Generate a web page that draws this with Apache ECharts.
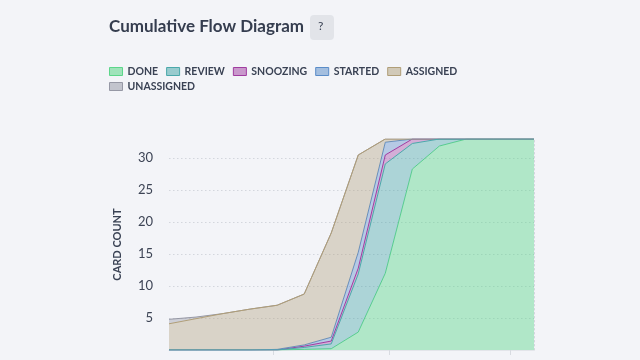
<!DOCTYPE html>
<html>
<head>
<meta charset="utf-8">
<script src="https://cdn.jsdelivr.net/npm/echarts@6/dist/echarts.min.js"></script>
<style>
  html, body { margin: 0; padding: 0; background: #f3f4f8; }
  #chart { width: 640px; height: 360px; }
</style>
</head>
<body>
<div id="chart"></div>
<script>
// x positions (days since start)
var days = [0, 1, 2, 3, 4, 5, 6, 7, 8, 9, 10, 11, 12, 13, 13.5];
var xTickDays = [3.84, 8.16, 12.62];
var yTickLabels = [5, 10, 15, 20, 25, 30];

// stacked per-state card counts
var done       = [0, 0, 0, 0, 0, 0.1, 0.2, 2.8, 12.0, 28.3, 31.9, 33, 33, 33, 33];
var review     = [0, 0, 0, 0, 0, 0.3, 0.75, 9.1, 17.1, 4.0, 1.1, 0, 0, 0, 0];
var snoozing   = [0, 0, 0, 0, 0, 0.2, 0.45, 0.9, 1.4, 0.7, 0, 0, 0, 0, 0];
var started    = [0, 0, 0, 0, 0.1, 0.2, 0.6, 2.5, 2.0, 0, 0, 0, 0, 0, 0];
var assigned   = [4.1, 4.9, 5.7, 6.4, 6.9, 7.95, 16.3, 15.2, 0.5, 0, 0, 0, 0, 0, 0];
var unassigned = [0.7, 0.25, 0, 0, 0, 0, 0, 0, 0, 0, 0, 0, 0, 0, 0];

var seriesNames = ['DONE', 'REVIEW', 'SNOOZING', 'STARTED', 'ASSIGNED', 'UNASSIGNED'];
var seriesValues = [done, review, snoozing, started, assigned, unassigned];
var lineColors = ['#5cd68a', '#4aa8aa', '#a03ca0', '#5a8cc8', '#b09e78', '#9698a5'];
var areaOpacity = [0.44, 0.42, 0.38, 0.4, 0.38, 0.4];
var seriesZ = [3, 5, 3, 3, 4, 2];

var DAY = 86400000;
var T0 = Date.UTC(2024, 0, 1);
function t(d) { return T0 + d * DAY; }

function pairs(vals) {
  return vals.map(function (v, i) { return [t(days[i]), v]; });
}
function hexToRgba(hex, a) {
  var r = parseInt(hex.slice(1, 3), 16), g = parseInt(hex.slice(3, 5), 16), b = parseInt(hex.slice(5, 7), 16);
  return 'rgba(' + r + ',' + g + ',' + b + ',' + a + ')';
}

var chart = echarts.init(document.getElementById('chart'), null, { renderer: 'canvas' });

var series = seriesNames.map(function (name, i) {
  return {
    name: name,
    type: 'line',
    stack: 'total',
    z: seriesZ[i],
    data: pairs(seriesValues[i]),
    symbol: 'none',
    smooth: false,
    color: lineColors[i],
    lineStyle: { width: 1, color: lineColors[i] },
    areaStyle: { color: lineColors[i], opacity: areaOpacity[i] },
    emphasis: { disabled: true },
    animation: false
  };
});

function legendItem(name) {
  var i = seriesNames.indexOf(name);
  return {
    name: name,
    icon: 'rect',
    itemStyle: {
      color: hexToRgba(lineColors[i], areaOpacity[i] + 0.12),
      borderColor: lineColors[i],
      borderWidth: 1
    }
  };
}
var legendBase = {
  left: 109, padding: 0,
  itemWidth: 13, itemHeight: 8, itemGap: 8,
  textStyle: { color: '#3a4254', fontSize: 10.5, fontWeight: 'bold', fontFamily: 'Lato' },
  selectedMode: false
};

chart.setOption({
  backgroundColor: '#f3f4f8',
  animation: false,
  textStyle: { fontFamily: 'Lato' },
  graphic: [
    {
      type: 'text', left: 109, top: 18,
      style: { text: 'Cumulative Flow Diagram', fontSize: 17, fontWeight: 'bold', fontFamily: 'Lato', fill: '#353d4f' }
    },
    {
      type: 'rect', left: 310, top: 15,
      shape: { width: 24, height: 25, r: 4 },
      style: { fill: '#e2e4e9' }
    },
    {
      type: 'text', left: 318, top: 20,
      style: { text: '?', fontSize: 12, fontFamily: 'Lato', fill: '#3a4254' }
    }
  ],
  legend: [
    Object.assign({}, legendBase, { top: 66, data: seriesNames.slice(0, 5).map(legendItem) }),
    Object.assign({}, legendBase, { top: 81, data: seriesNames.slice(5).map(legendItem) })
  ],
  grid: { left: 169, right: 106, top: 139, bottom: 10, containLabel: false },
  xAxis: {
    type: 'time', min: t(0), max: t(13.5),
    axisLine: { show: true, lineStyle: { color: '#e3e5ea' } },
    axisTick: { show: true, customValues: xTickDays.map(t), length: 5, lineStyle: { color: '#d8dbe1' } },
    axisLabel: { show: false },
    splitLine: { show: false }
  },
  yAxis: [
    {
      type: 'value', min: 0, max: 33, interval: 5,
      name: 'CARD COUNT', nameLocation: 'middle', nameGap: 46,
      nameTextStyle: { color: '#3a4254', fontSize: 11, fontWeight: 'bold', fontFamily: 'Lato' },
      axisLine: { show: false }, axisTick: { show: false },
      axisLabel: { color: '#3d4455', fontSize: 13, margin: 16, showMinLabel: false, fontFamily: 'Lato',
        formatter: function (v) { return yTickLabels.indexOf(v) >= 0 ? String(v) : ''; } },
      splitLine: { show: true, showMaxLine: false, lineStyle: { color: '#d3d6dd', type: [1.5, 2.5], width: 1 } }
    },
    {
      type: 'value', min: 0, max: 33, position: 'right',
      axisLine: { show: true, lineStyle: { color: '#d3d6dd', type: [1.5, 2.5] } },
      axisTick: { show: false }, axisLabel: { show: false }, splitLine: { show: false }
    }
  ],
  series: series
});
</script>
</body>
</html>
